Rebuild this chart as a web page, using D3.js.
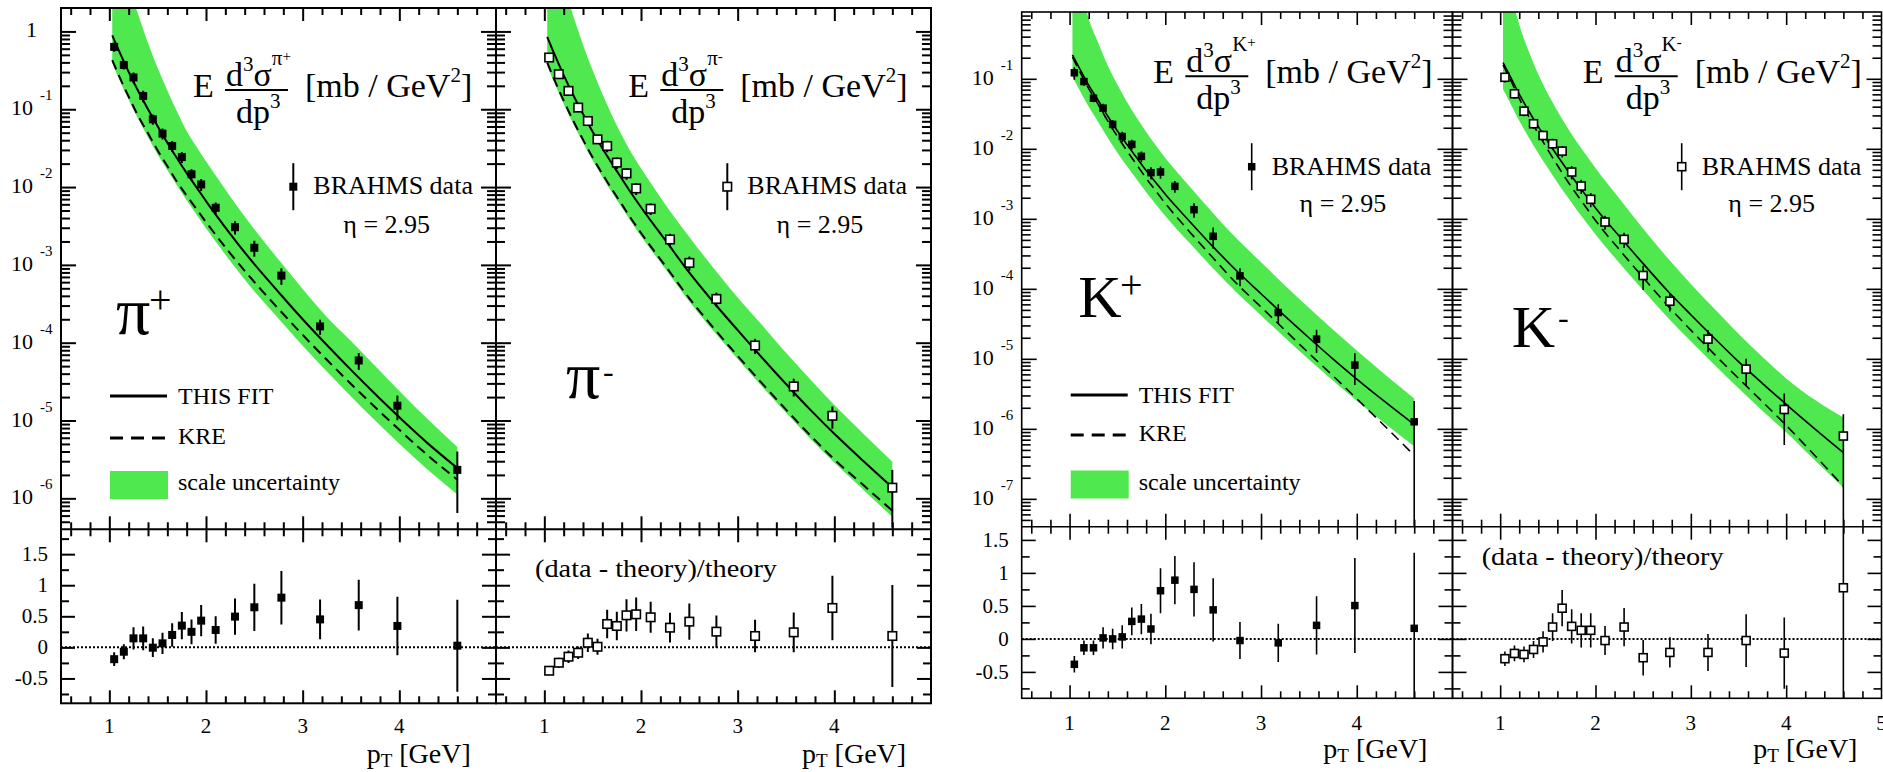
<!DOCTYPE html>
<meta charset="utf-8">
<script src="https://d3js.org/d3.v7.min.js"></script>
<style>
  body { margin: 0; background: #fff; }
  svg text { font-family: "Liberation Serif", "Times New Roman", serif; fill: #000; }
</style>
<div id="my_dataviz"></div>
<script>

// pT bin centres of the BRAHMS points (same bins in the four panels)
var ptBins = [1.05, 1.15, 1.25, 1.35, 1.45, 1.55, 1.65, 1.75, 1.85, 1.95, 2.1, 2.3, 2.5, 2.78, 3.18, 3.58, 3.98, 4.6];

// E d3sigma/dp3 [mb/GeV^2]
var piPlusData  = [0.633, 0.371, 0.256, 0.148, 0.0743, 0.0486, 0.0337, 0.0243, 0.0146, 0.0108, 0.00542, 0.00305, 0.00166, 7.28e-4, 1.62e-4, 5.91e-5, 1.55e-5, 2.32e-6];
var piMinusData = [0.462, 0.282, 0.172, 0.105, 0.0706, 0.041, 0.0337, 0.0206, 0.015, 0.0096, 0.00526, 0.00212, 0.00106, 3.65e-4, 9.2e-5, 2.74e-5, 1.15e-5, 1.37e-6];
var kPlusData   = [0.122, 0.0914, 0.0528, 0.0381, 0.0223, 0.015, 0.01156, 0.0078, 0.00456, 0.00466, 0.00291, 0.00135, 5.62e-4, 1.53e-4, 4.59e-5, 1.91e-5, 8.13e-6, 1.26e-6];
var kMinusData  = [0.105, 0.0611, 0.0345, 0.0228, 0.0155, 0.0118, 0.00927, 0.00466, 0.00294, 0.0019, 9.0e-4, 5.09e-4, 1.55e-4, 6.65e-5, 1.91e-5, 7.13e-6, 1.89e-6, 7.89e-7];

// (data - theory)/theory and its error
var piPlusRatio  = [-0.19, -0.07, 0.145, 0.145, -0.005, 0.065, 0.2, 0.35, 0.25, 0.43, 0.28, 0.495, 0.645, 0.8, 0.45, 0.68, 0.345, 0.027];
var piPlusErr    = [0.11, 0.12, 0.18, 0.19, 0.15, 0.17, 0.19, 0.22, 0.2, 0.25, 0.22, 0.29, 0.38, 0.43, 0.32, 0.41, 0.47, 0.74];
var piMinusRatio = [-0.376, -0.247, -0.15, -0.086, 0.075, 0.01, 0.376, 0.344, 0.516, 0.532, 0.484, 0.317, 0.414, 0.253, 0.183, 0.242, 0.634, 0.183];
var piMinusErr   = [0.07, 0.08, 0.1, 0.1, 0.15, 0.13, 0.23, 0.23, 0.26, 0.27, 0.25, 0.24, 0.29, 0.26, 0.26, 0.32, 0.52, 0.82];
var kPlusRatio   = [-0.385, -0.135, -0.135, 0.015, 0.0, 0.03, 0.265, 0.3, 0.15, 0.73, 0.89, 0.75, 0.44, -0.025, -0.06, 0.205, 0.505, 0.16];
var kPlusErr     = [0.125, 0.11, 0.11, 0.16, 0.155, 0.175, 0.21, 0.23, 0.23, 0.34, 0.365, 0.41, 0.48, 0.28, 0.29, 0.44, 0.72, 1.145];
var kMinusRatio  = [-0.3, -0.22, -0.235, -0.16, -0.045, 0.18, 0.465, 0.19, 0.13, 0.13, -0.025, 0.18, -0.285, -0.205, -0.205, -0.025, -0.215, 0.775];
var kMinusErr    = [0.11, 0.12, 0.12, 0.13, 0.16, 0.21, 0.275, 0.26, 0.26, 0.26, 0.22, 0.29, 0.27, 0.23, 0.28, 0.4, 0.54, 1.85];

// theory curves sampled on a pT grid
var ptGrid = [1.03, 1.1, 1.2, 1.3, 1.4, 1.5, 1.6, 1.7, 1.8, 1.9, 2.0, 2.25, 2.5, 2.75, 3.0, 3.25, 3.5, 3.75, 4.0, 4.3, 4.6];

var piPlusFit  = [0.891, 0.562, 0.302, 0.170, 0.100, 0.0603, 0.0372, 0.0234, 0.0151, 0.0100, 0.00661, 0.00251, 0.00102, 4.47e-4, 2.00e-4, 9.33e-5, 4.47e-5, 2.19e-5, 1.10e-5, 5.01e-6, 2.45e-6];
var piPlusKRE  = [0.427, 0.269, 0.145, 0.0813, 0.0490, 0.0295, 0.0186, 0.0117, 0.00776, 0.00525, 0.00355, 0.00141, 6.03e-4, 2.72e-4, 1.26e-4, 6.03e-5, 2.95e-5, 1.48e-5, 7.59e-6, 3.51e-6, 1.74e-6];
var piPlusLo   = [0.389, 0.245, 0.132, 0.0741, 0.0437, 0.0263, 0.0166, 0.0105, 0.00676, 0.00447, 0.00295, 0.00112, 4.57e-4, 2.04e-4, 9.12e-5, 4.27e-5, 2.04e-5, 1.0e-5, 5.01e-6, 2.29e-6, 1.12e-6];
var piPlusHi   = [39.8, 11.2, 3.98, 1.62, 0.708, 0.339, 0.174, 0.0933, 0.0525, 0.0331, 0.0214, 0.00759, 0.00288, 0.00117, 4.90e-4, 2.14e-4, 1.05e-4, 5.01e-5, 2.40e-5, 1.02e-5, 4.57e-6];

var piMinusFit = [0.851, 0.525, 0.275, 0.151, 0.0871, 0.0513, 0.0316, 0.0200, 0.0129, 0.00832, 0.00550, 0.00209, 7.94e-4, 3.31e-4, 1.45e-4, 6.46e-5, 2.95e-5, 1.38e-5, 6.76e-6, 3.02e-6, 1.38e-6];
var piMinusKRE = [0.398, 0.245, 0.129, 0.0708, 0.0407, 0.0240, 0.0148, 0.00933, 0.00603, 0.00389, 0.00257, 9.77e-4, 3.72e-4, 1.55e-4, 6.76e-5, 3.02e-5, 1.38e-5, 6.46e-6, 3.16e-6, 1.48e-6, 6.92e-7];
var piMinusLo  = [0.363, 0.224, 0.117, 0.0646, 0.0372, 0.0219, 0.0135, 0.00851, 0.00550, 0.00355, 0.00234, 8.91e-4, 3.39e-4, 1.41e-4, 6.17e-5, 2.75e-5, 1.26e-5, 5.89e-6, 2.88e-6, 1.29e-6, 5.75e-7];
var piMinusHi  = [39.8, 11.2, 3.98, 1.58, 0.676, 0.316, 0.158, 0.0832, 0.0468, 0.0275, 0.0174, 0.00603, 0.00229, 9.12e-4, 3.80e-4, 1.70e-4, 7.41e-5, 3.39e-5, 1.58e-5, 6.76e-6, 2.95e-6];

var kPlusFit   = [0.219, 0.145, 0.0813, 0.0490, 0.0292, 0.0180, 0.0115, 0.00750, 0.00490, 0.00331, 0.00224, 9.33e-4, 3.98e-4, 1.78e-4, 8.51e-5, 4.07e-5, 2.0e-5, 1.0e-5, 5.13e-6, 2.40e-6, 1.15e-6];
var kPlusKRE   = [0.204, 0.132, 0.0724, 0.0427, 0.0248, 0.0150, 0.00933, 0.00596, 0.00380, 0.00251, 0.00166, 6.61e-4, 2.75e-4, 1.17e-4, 5.50e-5, 2.57e-5, 1.20e-5, 5.75e-6, 2.69e-6, 1.07e-6, 4.17e-7];
var kPlusLo    = [0.107, 0.0708, 0.0398, 0.0240, 0.0143, 0.00881, 0.00562, 0.00367, 0.00240, 0.00162, 0.00110, 4.57e-4, 1.95e-4, 8.71e-5, 4.17e-5, 2.0e-5, 9.77e-6, 4.90e-6, 2.51e-6, 1.17e-6, 5.62e-7];
var kPlusHi    = [17.4, 2.88, 0.724, 0.324, 0.153, 0.0822, 0.0468, 0.0279, 0.0174, 0.0112, 0.00741, 0.00295, 0.00120, 5.13e-4, 2.40e-4, 1.12e-4, 5.37e-5, 2.63e-5, 1.32e-5, 5.89e-6, 2.72e-6];

var kMinusFit  = [0.170, 0.112, 0.0603, 0.0347, 0.0207, 0.0127, 0.00794, 0.00507, 0.00327, 0.00216, 0.00143, 5.62e-4, 2.29e-4, 9.55e-5, 4.27e-5, 1.95e-5, 9.12e-6, 4.47e-6, 2.24e-6, 1.0e-6, 4.57e-7];
var kMinusKRE  = [0.158, 0.102, 0.0525, 0.0288, 0.0164, 0.00966, 0.00582, 0.00355, 0.00226, 0.00146, 9.44e-4, 3.63e-4, 1.45e-4, 5.89e-5, 2.57e-5, 1.15e-5, 5.25e-6, 2.45e-6, 1.12e-6, 4.17e-7, 1.51e-7];
var kMinusLo   = [0.0708, 0.0468, 0.0251, 0.0145, 0.00861, 0.00531, 0.00331, 0.00211, 0.00136, 9.02e-4, 5.96e-4, 2.34e-4, 9.55e-5, 3.98e-5, 1.78e-5, 8.13e-6, 3.80e-6, 1.82e-6, 8.91e-7, 3.55e-7, 1.45e-7];
var kMinusHi   = [13.5, 2.24, 0.603, 0.245, 0.116, 0.0610, 0.0347, 0.0207, 0.0127, 0.00822, 0.00531, 0.00195, 7.24e-4, 2.82e-4, 1.17e-4, 5.13e-5, 2.29e-5, 1.07e-5, 5.25e-6, 2.6e-6, 1.45e-6];

// ticks
var ptTicks = [1, 2, 3, 4];
var piDecades = [1, 1e-1, 1e-2, 1e-3, 1e-4, 1e-5, 1e-6];
var kDecades = [1e-1, 1e-2, 1e-3, 1e-4, 1e-5, 1e-6, 1e-7];
var ratioTicks = [-0.5, 0, 0.5, 1, 1.5];
var ratioTickLabels = ["-0.5", "0", "0.5", "1", "1.5"];

var BAND = "#4fe84f";

// layout of the four panels
var panels = [
  { x0: 61, x1: 496, yTop: 8, yMid: 529.3, yBot: 703.3, logDomain: [4e-7, 2], ratioDomain: [-0.9, 1.9],
    decades: piDecades, data: piPlusData, ratio: piPlusRatio, err: piPlusErr,
    fit: piPlusFit, kre: piPlusKRE, lo: piPlusLo, hi: piPlusHi,
    open: false, ms: 8, lw: 2, yLabels: true,
    formula: [193, 97], supBase: "π", supSign: "+",
    brahms: [293.3, 186.7, 194], eta: [386.7, 233],
    particle: ["π", 116, 334, "+", 149, 313, 40],
    legend: [396, 438, 485], ratioTitle: null, xLabelY: 733, xTitle: [366.7, 763], label5: false },
  { x0: 496, x1: 931, yTop: 8, yMid: 529.3, yBot: 703.3, logDomain: [4e-7, 2], ratioDomain: [-0.9, 1.9],
    decades: piDecades, data: piMinusData, ratio: piMinusRatio, err: piMinusErr,
    fit: piMinusFit, kre: piMinusKRE, lo: piMinusLo, hi: piMinusHi,
    open: true, ms: 8.5, lw: 2, yLabels: false,
    formula: [628.3, 97], supBase: "π", supSign: "-",
    brahms: [727.3, 186.7, 194], eta: [820, 233],
    particle: ["π", 566, 398, "-", 603, 382, 32],
    legend: null, ratioTitle: [535, 576.7], xLabelY: 733, xTitle: [802, 763], label5: false },
  { x0: 1021.7, x1: 1452.5, yTop: 12, yMid: 526.7, yBot: 698.3, logDomain: [4e-8, 0.9], ratioDomain: [-0.9, 1.7],
    decades: kDecades, data: kPlusData, ratio: kPlusRatio, err: kPlusErr,
    fit: kPlusFit, kre: kPlusKRE, lo: kPlusLo, hi: kPlusHi,
    open: false, ms: 7.5, lw: 1.6, yLabels: true,
    formula: [1153.3, 83.3], supBase: "K", supSign: "+",
    brahms: [1251.7, 166.7, 175], eta: [1343, 211.7],
    particle: ["K", 1078.3, 316.7, "+", 1120, 298, 40],
    legend: [395, 435, 484.5], ratioTitle: null, xLabelY: 730, xTitle: [1323.3, 758], label5: false },
  { x0: 1452.5, x1: 1881.5, yTop: 12, yMid: 526.7, yBot: 698.3, logDomain: [4e-8, 0.9], ratioDomain: [-0.9, 1.7],
    decades: kDecades, data: kMinusData, ratio: kMinusRatio, err: kMinusErr,
    fit: kMinusFit, kre: kMinusKRE, lo: kMinusLo, hi: kMinusHi,
    open: true, ms: 8, lw: 1.6, yLabels: false,
    formula: [1582.7, 83.3], supBase: "K", supSign: "-",
    brahms: [1681.7, 166.7, 175], eta: [1771.7, 211.7],
    particle: ["K", 1511.7, 346.7, "-", 1558, 328, 32],
    legend: null, ratioTitle: [1481.7, 565], xLabelY: 730, xTitle: [1753.3, 758], label5: true }
];

var svg = d3.select("#my_dataviz")
  .append("svg")
    .attr("width", 1883)
    .attr("height", 772)
    .style("display", "block");
var defs = svg.append("defs");

function drawTicks(axis, tx, ty, vals, len, sw) {
  svg.append("g")
    .attr("transform", "translate(" + tx + "," + ty + ")")
    .call(axis.tickValues(vals).tickSize(len).tickSizeOuter(0).tickFormat(""))
    .call(function(g) { g.select(".domain").remove(); })
    .selectAll("line").attr("stroke", "#000").attr("stroke-width", sw);
}

function marker(g, cx, cy, p) {
  g.append("rect")
    .attr("x", cx - p.ms / 2).attr("y", cy - p.ms / 2)
    .attr("width", p.ms).attr("height", p.ms)
    .attr("fill", p.open ? "#fff" : "#000")
    .attr("stroke", p.open ? "#000" : "none")
    .attr("stroke-width", 1.6);
}

function drawPanel(p, i) {
  var x = d3.scaleLinear().domain([0.5, 5]).range([p.x0, p.x1]);
  var yL = d3.scaleLog().domain(p.logDomain).range([p.yMid, p.yTop]);
  var yR = d3.scaleLinear().domain(p.ratioDomain).range([p.yBot, p.yMid]);

  defs.append("clipPath").attr("id", "ct" + i).append("rect")
    .attr("x", p.x0).attr("y", p.yTop).attr("width", p.x1 - p.x0).attr("height", p.yMid - p.yTop);
  defs.append("clipPath").attr("id", "cb" + i).append("rect")
    .attr("x", p.x0).attr("y", p.yMid).attr("width", p.x1 - p.x0).attr("height", p.yBot - p.yMid);

  var top = svg.append("g").attr("clip-path", "url(#ct" + i + ")");
  var bot = svg.append("g").attr("clip-path", "url(#cb" + i + ")");

  var curve = ptGrid.map(function(pt, k) {
    return { pt: pt, lo: p.lo[k], hi: p.hi[k], fit: p.fit[k], kre: p.kre[k] };
  });

  // scale uncertainty band
  top.append("path").datum(curve)
    .attr("fill", BAND)
    .attr("d", d3.area()
      .x(function(d) { return x(d.pt); })
      .y0(function(d) { return yL(d.lo); })
      .y1(function(d) { return yL(d.hi); })
      .curve(d3.curveMonotoneX));

  // KRE (dashed) and this fit (solid)
  top.append("path").datum(curve)
    .attr("fill", "none").attr("stroke", "#000").attr("stroke-width", p.lw)
    .attr("stroke-dasharray", "10,6")
    .attr("d", d3.line().x(function(d) { return x(d.pt); }).y(function(d) { return yL(d.kre); }).curve(d3.curveMonotoneX));
  top.append("path").datum(curve)
    .attr("fill", "none").attr("stroke", "#000").attr("stroke-width", p.lw)
    .attr("d", d3.line().x(function(d) { return x(d.pt); }).y(function(d) { return yL(d.fit); }).curve(d3.curveMonotoneX));

  var pts = ptBins.map(function(pt, k) {
    return { pt: pt, v: p.data[k], r: p.ratio[k], e: p.err[k] };
  });

  // upper panel error bars: relative error of the data = ratio error / (1 + ratio)
  pts.forEach(function(d) {
    var f = d.e / (1 + d.r);
    var loV = d.v * (1 - f);
    top.append("line")
      .attr("x1", x(d.pt)).attr("x2", x(d.pt))
      .attr("y1", yL(d.v * (1 + f)))
      .attr("y2", loV > 0 ? yL(loV) : p.yMid + 5)
      .attr("stroke", "#000").attr("stroke-width", p.lw);
  });
  pts.forEach(function(d) { marker(top, x(d.pt), yL(d.v), p); });

  // lower panel
  bot.append("line")
    .attr("x1", p.x0).attr("x2", p.x1).attr("y1", yR(0)).attr("y2", yR(0))
    .attr("stroke", "#000").attr("stroke-width", 2).attr("stroke-dasharray", "2,2");
  pts.forEach(function(d) {
    bot.append("line")
      .attr("x1", x(d.pt)).attr("x2", x(d.pt))
      .attr("y1", yR(d.r + d.e)).attr("y2", yR(d.r - d.e))
      .attr("stroke", "#000").attr("stroke-width", p.lw);
  });
  pts.forEach(function(d) { marker(bot, x(d.pt), yR(d.r), p); });

  // frame
  svg.append("rect")
    .attr("x", p.x0).attr("y", p.yTop).attr("width", p.x1 - p.x0).attr("height", p.yBot - p.yTop)
    .attr("fill", "none").attr("stroke", "#000").attr("stroke-width", p.lw);
  svg.append("line")
    .attr("x1", p.x0).attr("x2", p.x1).attr("y1", p.yMid).attr("y2", p.yMid)
    .attr("stroke", "#000").attr("stroke-width", p.lw);

  // ticks
  var logMinor = [];
  p.decades.concat([p.decades[0] * 10]).forEach(function(d) {
    for (var k = 2; k <= 9; k++) {
      var v = k * d / 10;
      if (v > p.logDomain[0] && v < p.logDomain[1]) logMinor.push(v);
    }
  });
  var ptMinor = d3.range(0.6, 5, 0.2).filter(function(v) { return Math.abs(v - Math.round(v)) > 0.01; });
  var rMinor = [-0.75, -0.25, 0.25, 0.75, 1.25, 1.75].filter(function(v) { return v < p.ratioDomain[1]; });

  drawTicks(d3.axisRight(yL), p.x0, 0, p.decades, 15, p.lw);
  drawTicks(d3.axisRight(yL), p.x0, 0, logMinor, 9, p.lw);
  drawTicks(d3.axisLeft(yL), p.x1, 0, p.decades, 15, p.lw);
  drawTicks(d3.axisLeft(yL), p.x1, 0, logMinor, 9, p.lw);
  drawTicks(d3.axisRight(yR), p.x0, 0, ratioTicks, 14, p.lw);
  drawTicks(d3.axisRight(yR), p.x0, 0, rMinor, 8, p.lw);
  drawTicks(d3.axisLeft(yR), p.x1, 0, ratioTicks, 14, p.lw);
  drawTicks(d3.axisLeft(yR), p.x1, 0, rMinor, 8, p.lw);
  [[d3.axisBottom, p.yTop], [d3.axisTop, p.yMid], [d3.axisBottom, p.yMid], [d3.axisTop, p.yBot]].forEach(function(a) {
    drawTicks(a[0](x), 0, a[1], ptTicks, 13, p.lw);
    drawTicks(a[0](x), 0, a[1], ptMinor, 7, p.lw);
  });

  // tick labels
  if (p.yLabels) {
    p.decades.forEach(function(v) {
      var yy = yL(v);
      if (v === 1) {
        svg.append("text").attr("x", p.x0 - 24).attr("y", yy + 6)
          .attr("text-anchor", "end").style("font-size", "22px").text("1");
      } else {
        svg.append("text").attr("x", p.x0 - 28).attr("y", yy + 6)
          .attr("text-anchor", "end").style("font-size", "22px").text("10");
        svg.append("text").attr("x", p.x0 - 21).attr("y", yy - 9)
          .style("font-size", "15px").text("-" + Math.round(-Math.log10(v)));
      }
    });
    ratioTicks.forEach(function(v, k) {
      svg.append("text").attr("x", p.x0 - 13).attr("y", yR(v) + 7)
        .attr("text-anchor", "end").style("font-size", "21px").text(ratioTickLabels[k]);
    });
  }
  ptTicks.concat(p.label5 ? [5] : []).forEach(function(t) {
    svg.append("text").attr("x", x(t)).attr("y", p.xLabelY)
      .attr("text-anchor", "middle").style("font-size", "21px").text(t);
  });

  // axis title
  var xt = svg.append("text").attr("x", p.xTitle[0]).attr("y", p.xTitle[1]).style("font-size", "28px");
  xt.append("tspan").text("p");
  xt.append("tspan").attr("dy", 4).style("font-size", "19px").text("T");
  xt.append("tspan").attr("dy", -4).text(" [GeV]");

  // formula
  var fx = p.formula[0], fy = p.formula[1];
  svg.append("text").attr("x", fx).attr("y", fy).style("font-size", "34px").text("E");
  svg.append("line").attr("x1", fx + 32).attr("x2", fx + 95).attr("y1", fy - 7).attr("y2", fy - 7)
    .attr("stroke", "#000").attr("stroke-width", 2);
  var num = svg.append("text").attr("x", fx + 33).attr("y", fy - 11).style("font-size", "34px");
  num.append("tspan").text("d");
  num.append("tspan").attr("dy", -15).style("font-size", "21px").text("3");
  num.append("tspan").attr("dy", 15).text("σ");
  num.append("tspan").attr("dy", -21).style("font-size", "21px").text(p.supBase);
  num.append("tspan").attr("dy", -4).style("font-size", "15px").text(p.supSign);
  var den = svg.append("text").attr("x", fx + 43).attr("y", fy + 26).style("font-size", "34px");
  den.append("tspan").text("dp");
  den.append("tspan").attr("dy", -15).style("font-size", "21px").text("3");
  var br = svg.append("text").attr("x", fx + 112).attr("y", fy).style("font-size", "34px");
  br.append("tspan").text("[mb / GeV");
  br.append("tspan").attr("dy", -15).style("font-size", "21px").text("2");
  br.append("tspan").attr("dy", 15).text("]");

  // BRAHMS legend
  var bx = p.brahms[0], by = p.brahms[1];
  svg.append("line").attr("x1", bx).attr("x2", bx).attr("y1", by - 23.5).attr("y2", by + 23.5)
    .attr("stroke", "#000").attr("stroke-width", p.lw);
  marker(svg, bx, by, p);
  svg.append("text").attr("x", bx + 20).attr("y", p.brahms[2]).style("font-size", "26px").text("BRAHMS data");
  svg.append("text").attr("x", p.eta[0]).attr("y", p.eta[1]).attr("text-anchor", "middle")
    .style("font-size", "26px").text("η = 2.95");

  // particle label
  var pl = p.particle;
  svg.append("text").attr("x", pl[1]).attr("y", pl[2]).style("font-size", pl[0] === "π" ? "68px" : "60px").text(pl[0]);
  svg.append("text").attr("x", pl[4]).attr("y", pl[5]).style("font-size", pl[6] + "px").text(pl[3]);

  // fit legend
  if (p.legend) {
    var lx = p.x0 + 49, lx2 = p.x0 + 106, tx = p.x0 + 117, L = p.legend;
    svg.append("line").attr("x1", lx).attr("x2", lx2).attr("y1", L[0]).attr("y2", L[0])
      .attr("stroke", "#000").attr("stroke-width", 3);
    svg.append("text").attr("x", tx).attr("y", L[0] + 8).style("font-size", "24px").text("THIS FIT");
    svg.append("line").attr("x1", lx).attr("x2", lx2).attr("y1", L[1]).attr("y2", L[1])
      .attr("stroke", "#000").attr("stroke-width", 3).attr("stroke-dasharray", "13,8");
    svg.append("text").attr("x", tx).attr("y", L[1] + 6).style("font-size", "24px").text("KRE");
    svg.append("rect").attr("x", lx).attr("y", L[2] - 14).attr("width", 58).attr("height", 28).attr("fill", BAND);
    svg.append("text").attr("x", tx).attr("y", L[2] + 5).style("font-size", "24px").text("scale uncertainty");
  }
  if (p.ratioTitle) {
    svg.append("text").attr("x", p.ratioTitle[0]).attr("y", p.ratioTitle[1])
      .attr("textLength", 242).attr("lengthAdjust", "spacingAndGlyphs")
      .style("font-size", "25px").text("(data - theory)/theory");
  }
}

panels.forEach(drawPanel);

</script>
